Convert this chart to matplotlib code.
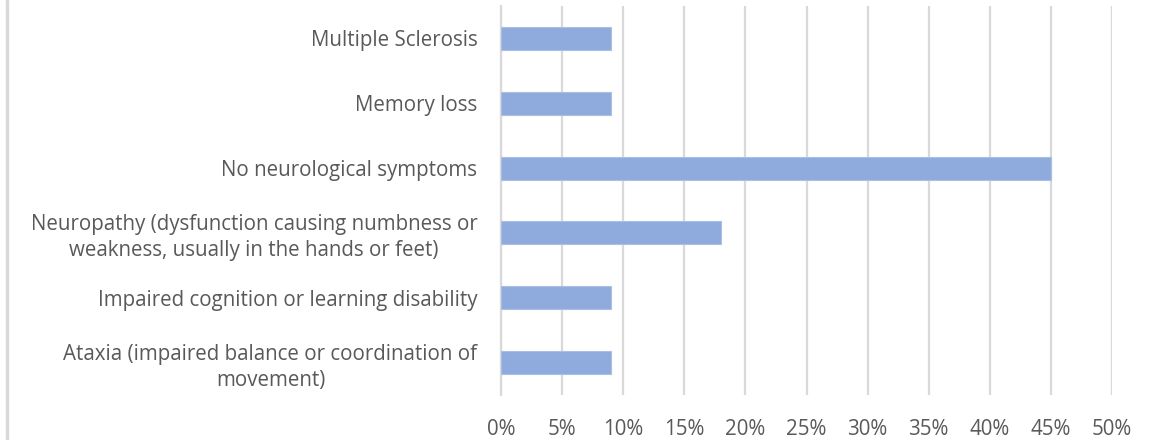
import matplotlib
matplotlib.use("Agg")
import matplotlib.pyplot as plt
from matplotlib.ticker import PercentFormatter, MultipleLocator
from matplotlib.patches import Rectangle

plt.rcParams['font.family'] = ['Open Sans', 'DejaVu Sans']

categories = [
    "Ataxia (impaired balance or coordination of\nmovement)",
    "Impaired cognition or learning disability",
    "Neuropathy (dysfunction causing numbness or\nweakness, usually in the hands or feet)",
    "No neurological symptoms",
    "Memory loss",
    "Multiple Sclerosis",
]
shares = [9, 9, 18, 45, 9, 9]

bar_color = "#8faadc"
grid_color = "#d9d9d9"
text_color = "#595959"

fig = plt.figure(figsize=(11.52, 4.40), dpi=100)
ax = fig.add_axes([501 / 1152, 1 - 395 / 440, 611 / 1152, 389 / 440])

y = range(len(categories))
ax.barh(y, shares, height=0.355, color=bar_color, edgecolor="#a9bfe6", linewidth=0.8, zorder=3)

ax.set_xlim(0, 50)
ax.set_ylim(-0.5, len(categories) - 0.5)
ax.xaxis.set_major_locator(MultipleLocator(5))
ax.xaxis.set_major_formatter(PercentFormatter(decimals=0))
ax.grid(axis="x", color=grid_color, linewidth=1.6, zorder=0)
ax.set_axisbelow(True)

for side in ["top", "right", "bottom"]:
    ax.spines[side].set_visible(False)
ax.spines["left"].set_color(grid_color)
ax.spines["left"].set_linewidth(1.6)

ax.set_yticks(list(y))
ax.set_yticklabels(categories, ha="right", multialignment="center", linespacing=1.3)
ax.tick_params(axis="y", length=0, pad=17, labelsize=14.8, colors=text_color)
ax.tick_params(axis="x", length=0, pad=17, labelsize=14.8, colors=text_color)

# thin frame edge on the left of the chart area
fig.patches.append(Rectangle((6 / 1152, 0), 2 / 1152, 1, transform=fig.transFigure,
                             color=grid_color, zorder=0))

fig.savefig("out.png", dpi=100)
